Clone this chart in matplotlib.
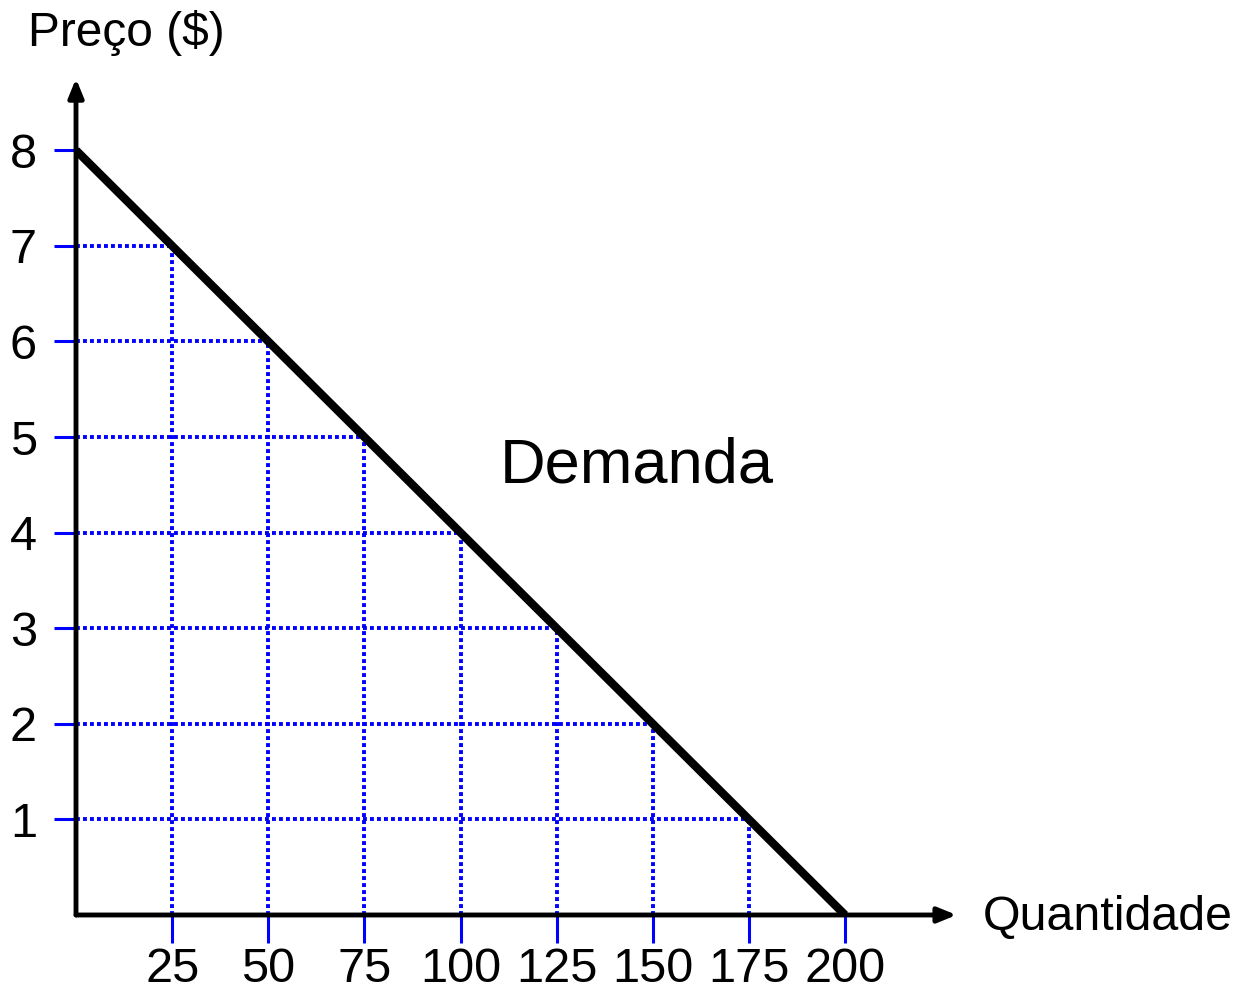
import matplotlib.pyplot as plt

# demand curve endpoints
demand_q = [0, 200]
demand_p = [8, 0]

# points marked on the curve
point_q = [25, 50, 75, 100, 125, 150, 175]
point_p = [7, 6, 5, 4, 3, 2, 1]

x_ticks = [25, 50, 75, 100, 125, 150, 175, 200]
y_ticks = [1, 2, 3, 4, 5, 6, 7, 8]

plt.rcParams['font.family'] = ['Liberation Sans', 'DejaVu Sans']

fig = plt.figure(figsize=(12.46, 9.91), dpi=100)
ax = fig.add_axes([0.061, 0.0767, 0.7098, 0.844])
ax.set_xlim(0, 230)
ax.set_ylim(0, 8.75)
for s in ax.spines.values():
    s.set_visible(False)

# dotted guide lines
blue = '#0000ff'
for q, p in zip(point_q, point_p):
    ax.plot([0, q], [p, p], color=blue, lw=2.8, ls=(0, (1, 0.8)), zorder=2)
    ax.plot([q, q], [0, p], color=blue, lw=2.8, ls=(0, (1, 0.8)), zorder=2)

# demand line
ax.plot(demand_q, demand_p, color='black', lw=6, solid_capstyle='butt', zorder=4)

# axes with arrows
arrow = dict(arrowstyle='-|>,head_length=1.1,head_width=0.45', color='black',
             lw=3.5, shrinkA=0, shrinkB=0)
ax.annotate('', xy=(229, 0), xytext=(0, 0), arrowprops=arrow, annotation_clip=False, zorder=5)
ax.annotate('', xy=(0, 8.75), xytext=(0, 0), arrowprops=arrow, annotation_clip=False, zorder=5)

ax.set_xticks(x_ticks)
ax.set_xticklabels([str(v) for v in x_ticks])
ax.set_yticks(y_ticks)
ax.set_yticklabels([str(v) for v in y_ticks])
ax.tick_params(axis='both', direction='out', color=blue, width=2.2,
               labelsize=35, labelcolor='black')
ax.tick_params(axis='x', length=20, pad=3)
ax.tick_params(axis='y', length=16, pad=12)

ax.text(-12.5, 9.23, 'Preço ($)', fontsize=34.5, va='center', ha='left', clip_on=False)
ax.text(235.9, -0.03, 'Quantidade', fontsize=34.8, va='center', ha='left', clip_on=False)
ax.text(110.3, 4.70, 'Demanda', fontsize=45.5, va='center', ha='left')

fig.savefig('out.png', dpi=100)
